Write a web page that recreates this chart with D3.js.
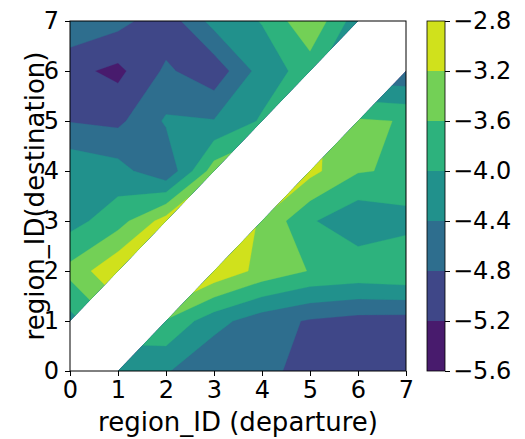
<!DOCTYPE html>
<html>
<head>
<meta charset="utf-8">
<script src="https://cdn.jsdelivr.net/npm/d3@7"></script>
<style>
  body { margin: 0; background: #fff; }
  svg text { font-family: "DejaVu Sans", sans-serif; fill: #000; }
</style>
</head>
<body>
<svg id="chart" width="525" height="439"></svg>
<script>
// region ids on both axes
const regionIds = [0, 1, 2, 3, 4, 5, 6, 7];

// one row per destination, columns = departure 0..7, diagonal has no value
const dest0 = [null, -4.38, -4.36, -4.77, -4.70, -4.93, -5.02, -4.98];
const dest1 = [-4.14, null, -3.64, -4.25, -4.63, -4.84, -4.95, -4.97];
const dest2 = [-3.48, -2.84, null, -2.88, -3.33, -3.62, -3.70, -3.62];
const dest3 = [-4.15, -3.77, -3.02, null, -3.25, -3.95, -4.31, -4.15];
const dest4 = [-4.07, -4.24, -4.73, -3.40, null, -3.08, -3.57, -3.66];
const dest5 = [-4.82, -4.89, -4.35, -4.38, -3.95, null, -3.55, -3.62];
const dest6 = [-5.09, -5.30, -4.73, -5.07, -4.22, -3.82, null, -4.75];
const dest7 = [-4.47, -4.67, -5.05, -4.25, -3.98, -3.26, -4.24, null];

const levels = [-5.6, -5.2, -4.8, -4.4, -4.0, -3.6, -3.2, -2.8];
const levelLabels = ["−5.6", "−5.2", "−4.8", "−4.4", "−4.0", "−3.6", "−3.2", "−2.8"];

const grid = [dest0, dest1, dest2, dest3, dest4, dest5, dest6, dest7];
const n = regionIds.length;

const svg = d3.select("#chart");
const x = d3.scaleLinear().domain([0, 7]).range([70, 406]);
const y = d3.scaleLinear().domain([0, 7]).range([371, 21]);
const color = i => d3.interpolateViridis((i + 0.5) / (levels.length - 1));

// the diagonal is masked; each half is contoured on its own with the
// missing corner continued from the triangle next to it
function halfValues(side) {
  const vals = [];
  for (let j = 0; j < n; j++) {
    for (let i = 0; i < n; i++) {
      let v = grid[j][i];
      if (v == null) {
        const k = i;
        if (k === 0) v = side === "upper" ? grid[1][0] : grid[0][1];
        else if (k === n - 1) v = side === "upper" ? grid[n - 1][n - 2] : grid[n - 2][n - 1];
        else if (side === "upper") v = grid[k][k - 1] + grid[k + 1][k] - grid[k + 1][k - 1];
        else v = grid[k - 1][k] + grid[k][k + 1] - grid[k - 1][k + 1];
      }
      vals.push(v);
    }
  }
  return vals;
}

const proj = d3.geoTransform({
  point(px, py) { this.stream.point(x(px - 0.5), y(py - 0.5)); }
});
const path = d3.geoPath(proj);

const defs = svg.append("defs");
const halves = {
  upper: [[0, 1], [0, 7], [6, 7]],
  lower: [[1, 0], [7, 0], [7, 6]]
};

Object.entries(halves).forEach(([side, tri]) => {
  defs.append("clipPath").attr("id", "clip-" + side)
    .append("polygon")
    .attr("points", tri.map(p => [x(p[0]), y(p[1])].join(",")).join(" "));

  const contours = d3.contours()
    .size([n, n])
    .thresholds(levels.slice(0, -1))(halfValues(side));

  svg.append("g")
    .attr("clip-path", `url(#clip-${side})`)
    .selectAll("path")
    .data(contours)
    .join("path")
    .attr("d", path)
    .attr("fill", (d, i) => color(i))
    .attr("stroke", (d, i) => color(i))
    .attr("stroke-width", 0.3);
});

// frame
svg.append("rect")
  .attr("x", x(0)).attr("y", y(7))
  .attr("width", x(7) - x(0)).attr("height", y(0) - y(7))
  .attr("fill", "none").attr("stroke", "#000").attr("stroke-width", 1);

const xAxis = svg.append("g")
  .attr("transform", `translate(0,${y(0)})`)
  .call(d3.axisBottom(x).tickValues(regionIds).tickFormat(d3.format("d")).tickSize(5).tickPadding(5));
const yAxis = svg.append("g")
  .attr("transform", `translate(${x(0)},0)`)
  .call(d3.axisLeft(y).tickValues(regionIds).tickFormat(d3.format("d")).tickSize(5).tickPadding(6));
[xAxis, yAxis].forEach(g => {
  g.select(".domain").remove();
  g.selectAll("text").attr("font-size", 24).attr("font-family", null);
  g.selectAll("line").attr("stroke", "#000");
});

svg.append("text")
  .attr("x", (x(0) + x(7)) / 2).attr("y", 431)
  .attr("text-anchor", "middle").attr("font-size", 26)
  .text("region_ID (departure)");
svg.append("text")
  .attr("transform", `translate(44,${(y(0) + y(7)) / 2}) rotate(-90)`)
  .attr("text-anchor", "middle").attr("font-size", 26)
  .text("region_ID(destination)");

// colour bar
const cb = d3.scaleLinear().domain([levels[0], levels[levels.length - 1]]).range([371, 21]);
const cbX = 427, cbW = 18;
svg.append("g").selectAll("rect")
  .data(levels.slice(0, -1))
  .join("rect")
  .attr("x", cbX).attr("width", cbW)
  .attr("y", (d, i) => cb(levels[i + 1]))
  .attr("height", (d, i) => cb(levels[i]) - cb(levels[i + 1]))
  .attr("fill", (d, i) => color(i));
svg.append("rect")
  .attr("x", cbX).attr("y", cb(levels[levels.length - 1]))
  .attr("width", cbW).attr("height", cb(levels[0]) - cb(levels[levels.length - 1]))
  .attr("fill", "none").attr("stroke", "#000").attr("stroke-width", 0.8);

const cbAxis = svg.append("g")
  .attr("transform", `translate(${cbX + cbW},0)`)
  .call(d3.axisRight(cb).tickValues(levels).tickFormat((d, i) => levelLabels[i]).tickSize(5).tickPadding(3));
cbAxis.select(".domain").remove();
cbAxis.selectAll("text").attr("font-size", 24).attr("font-family", null);
cbAxis.selectAll("line").attr("stroke", "#000");
</script>
</body>
</html>
